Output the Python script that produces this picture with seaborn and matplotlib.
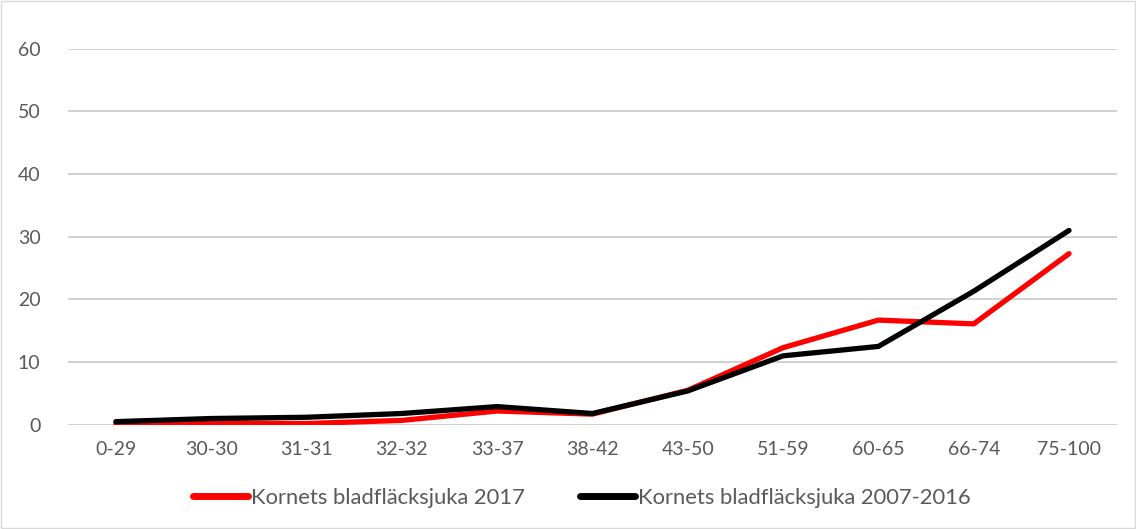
import pandas as pd
import matplotlib.pyplot as plt
import seaborn as sns

kategorier = ['0-29', '30-30', '31-31', '32-32', '33-37', '38-42', '43-50',
              '51-59', '60-65', '66-74', '75-100']
serie_2017 = [0.1, 0.3, 0.2, 0.7, 2.2, 1.7, 5.5, 12.3, 16.7, 16.1, 27.3]
serie_2007_2016 = [0.5, 1.0, 1.2, 1.8, 2.9, 1.8, 5.4, 11.0, 12.5, 21.3, 31.0]
namn = ['Kornets bladfläcksjuka 2017', 'Kornets bladfläcksjuka 2007-2016']

def main():
	sns.set_style('white')
	plt.rcParams['font.family'] = ['Lato', 'DejaVu Sans']

	df = pd.concat([
		pd.DataFrame({'kat': kategorier, 'varde': serie_2017, 'serie': namn[0]}),
		pd.DataFrame({'kat': kategorier, 'varde': serie_2007_2016, 'serie': namn[1]}),
	])

	fig = plt.figure(figsize=(11.36, 5.29), dpi=100)
	ax = fig.add_axes([0.06, 0.197, 0.923, 0.711])
	sns.lineplot(data=df, x='kat', y='varde', hue='serie', sort=False,
	             palette={namn[0]: '#ff0000', namn[1]: '#000000'},
	             linewidth=3.8, ax=ax, legend=True)
	for l in ax.lines:
		l.set_solid_capstyle('round')

	ax.set_ylim(0, 60)
	ax.set_xlim(-0.5, len(kategorier) - 0.5)
	ax.set_yticks(range(0, 61, 10))
	ax.yaxis.grid(True, color='#c8c8c8', linewidth=1.2)
	ax.set_axisbelow(True)
	for s in ax.spines.values():
		s.set_visible(False)
	ax.set_xlabel('')
	ax.set_ylabel('')
	ax.tick_params(axis='both', length=0, labelsize=14, labelcolor='#595959', pad=12)
	ax.tick_params(axis='y', pad=20)

	leg = ax.legend(loc='center', bbox_to_anchor=(0.49, -0.195), ncol=2, frameon=False,
	                fontsize=15.8, handlelength=2.5, handletextpad=0.15, columnspacing=2.5)
	for t in leg.get_texts():
		t.set_color('#595959')
	for h in leg.get_lines():
		h.set_linewidth(5)

	fig.patches.append(plt.Rectangle((0.001, 0.002), 0.998, 0.996, transform=fig.transFigure,
	                                 fill=False, edgecolor='#d9d9d9', linewidth=1))
	fig.savefig('out.png', dpi=100, facecolor='white')

main()
